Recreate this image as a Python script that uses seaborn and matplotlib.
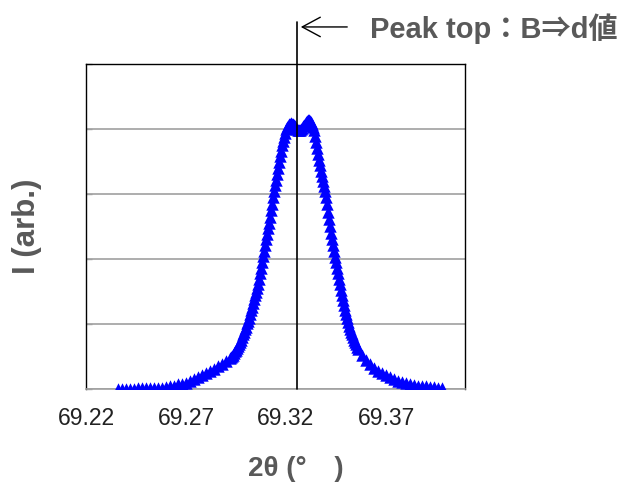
import numpy as np
import pandas as pd
import matplotlib
matplotlib.use('Agg')
import matplotlib.pyplot as plt
import seaborn as sns

# 2theta (deg) and intensity
# left tail, 0.002 step
tail_left_x = [69.236, 69.238, 69.240, 69.242, 69.244, 69.246, 69.248, 69.250,
               69.252, 69.254, 69.256, 69.258, 69.260, 69.262, 69.264, 69.266,
               69.268, 69.270, 69.272, 69.274, 69.276, 69.278, 69.280, 69.282,
               69.284, 69.286, 69.288, 69.290]
tail_left_i = [0.00, 0.00, 0.00, 0.00, 0.00, 0.01, 0.01, 0.01,
               0.01, 0.01, 0.02, 0.02, 0.03, 0.04, 0.05, 0.07,
               0.08, 0.10, 0.13, 0.15, 0.18, 0.21, 0.24, 0.28,
               0.31, 0.35, 0.39, 0.43]
# peak region, 0.0005 step from 69.2920 to 69.3560
peak_x0 = 69.2920
peak_step = 0.0005
peak_i = [0.48, 0.50, 0.51, 0.53, 0.55, 0.58, 0.60, 0.63, 0.66, 0.69,
          0.73, 0.76, 0.80, 0.84, 0.88, 0.92, 0.96, 1.01, 1.05, 1.10,
          1.15, 1.21, 1.26, 1.32, 1.38, 1.44, 1.50, 1.56, 1.62, 1.70,
          1.78, 1.86, 1.95, 2.04, 2.12, 2.21, 2.30, 2.39, 2.47, 2.56,
          2.65, 2.75, 2.85, 2.95, 3.05, 3.14, 3.22, 3.31, 3.40, 3.49,
          3.58, 3.66, 3.75, 3.82, 3.88, 3.94, 4.00, 4.03, 4.05, 4.07,
          4.08, 4.09, 4.08, 4.07, 4.06, 4.04, 4.02, 4.00, 3.99, 3.98,
          3.99, 4.00, 4.02, 4.04, 4.06, 4.08, 4.10, 4.12, 4.14, 4.14,
          4.13, 4.11, 4.07, 4.03, 3.98, 3.89, 3.80, 3.71, 3.62, 3.53,
          3.45, 3.36, 3.28, 3.20, 3.12, 3.04, 2.95, 2.84, 2.72, 2.61,
          2.50, 2.40, 2.31, 2.21, 2.12, 2.03, 1.95, 1.86, 1.78, 1.70,
          1.61, 1.53, 1.45, 1.37, 1.29, 1.22, 1.15, 1.09, 1.03, 0.97,
          0.92, 0.88, 0.84, 0.80, 0.76, 0.72, 0.69, 0.65, 0.62]
# right tail, 0.002 step
tail_right_x = [69.358, 69.360, 69.362, 69.364, 69.366, 69.368, 69.370, 69.372,
                69.374, 69.376, 69.378, 69.380, 69.382, 69.384, 69.386, 69.388,
                69.390, 69.392, 69.394, 69.396, 69.398]
tail_right_i = [0.52, 0.44, 0.38, 0.32, 0.28, 0.24, 0.21, 0.18,
                0.15, 0.13, 0.11, 0.09, 0.08, 0.06, 0.05, 0.04,
                0.04, 0.03, 0.03, 0.02, 0.02]

xticks = [69.22, 69.27, 69.32, 69.37]
peak_x = 69.3255
note = 'Peak top：B⇒d値'

peak_xs = [round(peak_x0 + k * peak_step, 4) for k in range(len(peak_i))]
df = pd.DataFrame({'2theta': tail_left_x + peak_xs + tail_right_x,
                   'I': tail_left_i + peak_i + tail_right_i})

sns.set_style('white')
plt.rcParams['font.family'] = ['Liberation Sans', 'Noto Sans CJK JP', 'DejaVu Sans']

fig = plt.figure(figsize=(6.39, 4.86), dpi=100)
ax = fig.add_axes([86/639, 97/486, 379/639, 325/486])

ax.set_axisbelow(True)
sns.scatterplot(data=df, x='2theta', y='I', marker='^', color='#0000ff',
                s=80, linewidth=0, ax=ax, zorder=3)

ax.set_xlim(69.22, 69.4095)
ax.set_ylim(0, 5)
ax.set_xticks(xticks)
ax.set_xticklabels([f'{t:.2f}' for t in xticks], fontsize=16.5, color='#222222')
ax.set_yticks([0, 1, 2, 3, 4, 5])
ax.set_yticklabels([])
ax.yaxis.grid(True, color='#a0a0a0', linewidth=1.2)
ax.xaxis.grid(False)
ax.tick_params(axis='x', direction='out', length=5, width=1, color='#a0a0a0', pad=8)
ax.tick_params(axis='y', direction='in', length=4, width=1, color='#a0a0a0', left=True)

for side in ['top', 'right', 'left']:
    ax.spines[side].set_color('black')
    ax.spines[side].set_linewidth(1.0)
ax.spines['bottom'].set_color('#a0a0a0')
ax.spines['bottom'].set_linewidth(1.2)

ax.set_xlabel('2θ (°\u3000)', fontsize=20, fontweight='bold', color='#595959')
ax.xaxis.set_label_coords((296 - 86) / 379, -0.205)
ax.set_ylabel('I (arb.)', fontsize=22.5, fontweight='bold', color='#595959', labelpad=28)

# peak top marker line + note
ax.plot([peak_x, peak_x], [0, 5.65], color='black', lw=1.2, clip_on=False, zorder=4)
ax.annotate('', xy=(peak_x + 0.0005, 5.57), xytext=(69.352, 5.57),
            arrowprops=dict(arrowstyle='->, head_length=0.65, head_width=0.35',
                            color='black', lw=1, mutation_scale=20),
            annotation_clip=False)
ax.text(69.362, 5.40, note, fontsize=21, fontweight='bold', color='#595959',
        va='baseline', ha='left', clip_on=False)

plt.savefig('out.png', dpi=100)
